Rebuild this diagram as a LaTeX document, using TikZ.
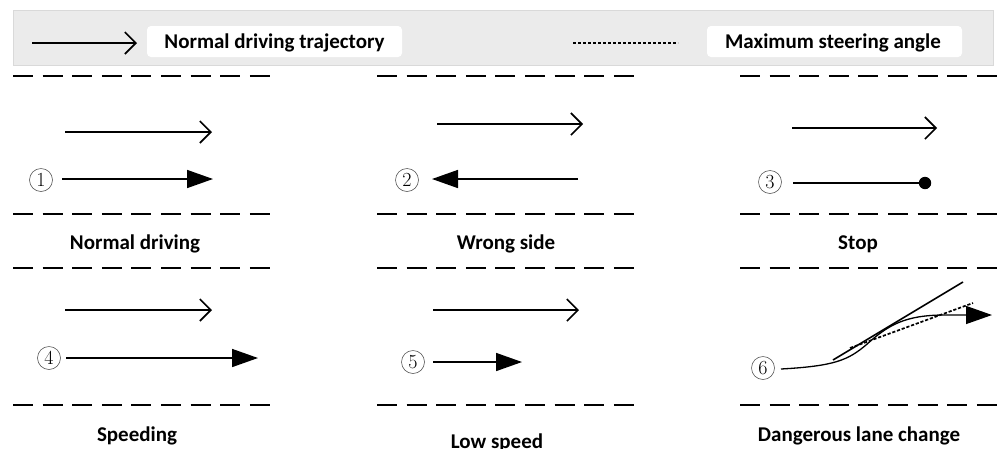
\documentclass[tikz,border=0pt]{standalone}
\usepackage{fontspec}
\newfontfamily\labelfont{Carlito}
\usetikzlibrary{arrows.meta}
\tikzset{
  lane/.style={line width=2.8pt, dash pattern=on 20pt off 9.6pt},
  refpath/.style={line width=1.6pt, -{Straight Barb[length=11pt,width=22pt]}},
  actpath/.style={line width=1.6pt, -{Triangle[length=26pt,width=18pt]}},
  steer/.style={line width=1.7pt, dash pattern=on 3.2pt off 1.8pt},
  tag/.style={circle, draw=black!65, line width=0.6pt, minimum size=23pt, inner sep=0pt,
    font=\fontsize{20}{20}\selectfont},
  caption/.style={anchor=base, font=\labelfont\bfseries\fontsize{21}{24}\selectfont},
  legendbox/.style={fill=white, rounded corners=4pt},
}
\begin{document}
\begin{tikzpicture}[x=1pt, y=-1pt]
\clip (0,0) rectangle (998,448);
\fill[white] (0,0) rectangle (998,448);

% legend bar
\filldraw[fill=black!8, draw=black!15, line width=0.8pt] (13,10) rectangle (993,65);
\fill[legendbox] (147,26) rectangle (402,57);
\fill[legendbox] (707,26) rectangle (962,57);
\node[caption] (legA) at (274.5,48) {Normal driving trajectory};
\node[caption] (legB) at (833,48) {Maximum steering angle};
\coordinate (la1) at (32,43);  \coordinate (la2) at (137,43);
\coordinate (lb1) at (573,43); \coordinate (lb2) at (678,43);
\draw[refpath] (la1) -- (la2);
\draw[steer] (lb1) -- (lb2);

% lane markings
\foreach \xs in {13,377,740}{
  \foreach \yl in {76,214,268,405}{
    \draw[lane] (\xs,\yl) -- ++(257,0);
  }
}

% 1: normal driving
\coordinate (r1a) at (65,132);  \coordinate (r1b) at (212,132);
\coordinate (p1a) at (62,179);  \coordinate (p1b) at (213,179);
\draw[refpath] (r1a) -- (r1b);
\draw[actpath] (p1a) -- (p1b);
\node[tag] (t1) at (41,180) {1};
\node[caption] (c1) at (135,249) {Normal driving};

% 2: wrong side
\coordinate (r2a) at (437,124); \coordinate (r2b) at (583,124);
\coordinate (p2a) at (578,179); \coordinate (p2b) at (432,179);
\draw[refpath] (r2a) -- (r2b);
\draw[actpath] (p2a) -- (p2b);
\node[tag] (t2) at (407,180) {2};
\node[caption] (c2) at (506,249) {Wrong side};

% 3: stop
\coordinate (r3a) at (792,128); \coordinate (r3b) at (937,128);
\coordinate (p3a) at (793,183); \coordinate (p3b) at (925,183);
\draw[refpath] (r3a) -- (r3b);
\draw[line width=1.6pt] (p3a) -- (p3b);
\fill (p3b) circle (6.2pt);
\node[tag] (t3) at (770,182) {3};
\node[caption] (c3) at (858,249) {Stop};

% 4: speeding
\coordinate (r4a) at (65,310);  \coordinate (r4b) at (212,310);
\coordinate (p4a) at (66,358);  \coordinate (p4b) at (258,358);
\draw[refpath] (r4a) -- (r4b);
\draw[actpath] (p4a) -- (p4b);
\node[tag] (t4) at (49,358) {4};
\node[caption] (c4) at (137,441) {Speeding};

% 5: low speed
\coordinate (r5a) at (433,310); \coordinate (r5b) at (579,310);
\coordinate (p5a) at (433,362); \coordinate (p5b) at (522,362);
\draw[refpath] (r5a) -- (r5b);
\draw[actpath] (p5a) -- (p5b);
\node[tag] (t5) at (413,362) {5};
\node[caption] (c5) at (497,448) {Low speed};

% 6: dangerous lane change
\coordinate (s6a) at (833,360); \coordinate (s6b) at (963,282);
\coordinate (d6a) at (850,348); \coordinate (d6b) at (973,303);
\coordinate (p6a) at (781,369); \coordinate (p6b) at (992,315);
\draw[line width=1.6pt] (s6a) -- (s6b);
\draw[steer] (d6a) -- (d6b);
\draw[line width=1.3pt, -{Triangle[length=26pt,width=18pt]}]
  (p6a) .. controls (835,366) and (848,360) .. (866,345)
        .. controls (888,325) and (905,315) .. (945,315) -- (p6b);
\node[tag] (t6) at (763,368) {6};
\node[caption] (c6) at (859,441) {Dangerous lane change};
\end{tikzpicture}
\end{document}
